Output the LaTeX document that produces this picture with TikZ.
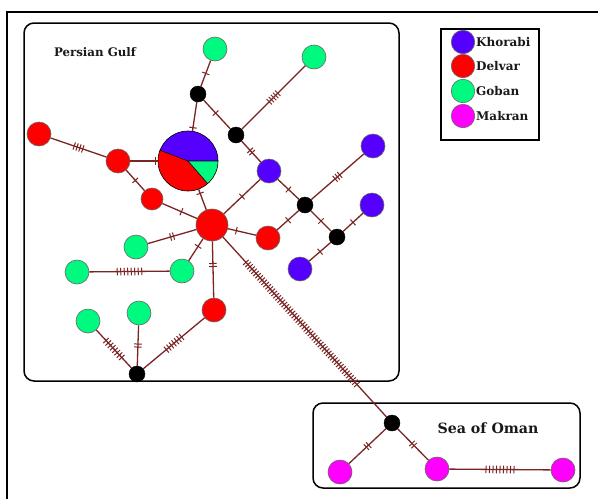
\documentclass[tikz,border=0pt]{standalone}
\usepackage{fontspec}
\setmainfont{DejaVu Serif}
\usetikzlibrary{decorations.markings,calc}
\definecolor{khor}{RGB}{85,0,255}
\definecolor{delv}{RGB}{255,0,0}
\definecolor{gob}{RGB}{0,250,128}
\definecolor{mak}{RGB}{255,0,255}
\definecolor{edgec}{RGB}{122,36,36}
\tikzset{
  hap/.style={circle, draw=black!60, line width=0.6, inner sep=0, minimum size=24},
  blk/.style={circle, fill=black, draw=black, inner sep=0, minimum size=16},
  ed/.style={draw=edgec, line width=1.3},
  tk/.style n args={3}{postaction={decorate, decoration={markings,
      mark=at position #2 with {\foreach \k in {1,...,#1}{\draw[edgec, line width=1]
        ({(\k-(#1+1)/2)*#3},-3.8) -- ({(\k-(#1+1)/2)*#3},3.8);}}}}},
  box/.style={draw=black, line width=1.5, rounded corners=10},
  lbl/.style={font=\bfseries, text=black!90, inner sep=0},
}
\begin{document}
\begin{tikzpicture}[x=1pt, y=-1pt]
\useasboundingbox (0,0) rectangle (598,499);
\fill[white] (0,0) rectangle (598,499);
% frames
\draw[line width=1.3] (7,499) -- (7,12) -- (598,12);
\draw[box] (24,23) rectangle (399,381);
\draw[box] (313,403) rectangle (580,488);
\draw[line width=2] (441,29) rectangle (539,140);
\node[lbl, font=\bfseries\fontsize{11.8}{13}\selectfont] (pg) at (95,52) {Persian Gulf};
\node[lbl, font=\bfseries\fontsize{14.2}{16}\selectfont] (so) at (488,428) {Sea of Oman};
% nodes
\node[hap,fill=gob] (g1) at (215,49) {};
\node[blk] (b1) at (198,94) {};
\node[blk] (b2) at (236,135) {};
\node[hap,fill=gob] (g3) at (314,57) {};
\node[hap,fill=delv] (r1) at (39,134) {};
\node[hap,fill=delv] (r2) at (118,161) {};
\node[hap,fill=delv,minimum size=22] (r3) at (152,199) {};
\node[hap,fill=delv,minimum size=32] (rc) at (212,225) {};
\node[hap,fill=khor] (k1) at (269,171) {};
\node[hap,fill=delv] (r4) at (268,238) {};
\node[hap,fill=gob] (g2) at (136,247) {};
\node[hap,fill=khor] (k2) at (373,146) {};
\node[hap,fill=khor] (k3) at (372,205) {};
\node[blk] (b3) at (305,205) {};
\node[blk] (b4) at (337,237) {};
\node[hap,fill=khor] (k4) at (300,269) {};
\node[hap,fill=gob] (g4) at (77,272) {};
\node[hap,fill=gob] (g5) at (182,271) {};
\node[hap,fill=delv] (r5) at (214,310) {};
\node[hap,fill=gob] (g6) at (88,321) {};
\node[hap,fill=gob] (g7) at (139,313) {};
\node[blk] (b5) at (137,374) {};
\node[blk] (b6) at (392,423) {};
\node[hap,fill=mak] (m1) at (340,472) {};
\node[hap,fill=mak] (m2) at (437,469) {};
\node[hap,fill=mak] (m3) at (563,470) {};
\node[circle, minimum size=60, inner sep=0] (pie) at (188,161) {};
% pie
\fill[khor] (pie.center) -- ++(0:30) arc[start angle=0, end angle=-159, radius=30] -- cycle;
\fill[delv] (pie.center) -- ++(-159:30) arc[start angle=-159, end angle=-311, radius=30] -- cycle;
\fill[gob] (pie.center) -- ++(-311:30) arc[start angle=-311, end angle=-360, radius=30] -- cycle;
\draw[black, line width=0.6] (pie.center) circle[radius=30];
\draw[black, line width=0.6] ($(pie.center)+(-159:30)$) -- (pie.center) -- ++(0:30);
\draw[black, line width=0.6] (pie.center) -- ++(-311:30);
% edges
\draw[ed, tk={1}{0.5}{3}] (g1) -- (b1);
\draw[ed, tk={1}{0.88}{3}] (b1) -- (pie);
\draw[ed, tk={1}{0.45}{3}] (b1) -- (b2);
\draw[ed, tk={5}{0.5}{3}] (b2) -- (g3);
\draw[ed, tk={2}{0.5}{3}] (b2) -- (k1);
\draw[ed, tk={4}{0.5}{3}] (r1) -- (r2);
\draw[ed, tk={1}{0.93}{3}] (r2) -- (pie);
\draw[ed, tk={1}{0.5}{3}] (r2) -- (r3);
\draw[ed, tk={1}{0.55}{3}] (r3) -- (rc);
\draw[ed, tk={1}{0.2}{3}] (pie) -- (rc);
\draw[ed, tk={1}{0.5}{3}] (k1) -- (rc);
\draw[ed, tk={1}{0.3}{3}] (rc) -- (r4);
\draw[ed, tk={1}{0.5}{3}] (k1) -- (b3);
\draw[ed, tk={3}{0.5}{3}] (b3) -- (k2);
\draw[ed, tk={1}{0.5}{3}] (b3) -- (r4);
\draw[ed, tk={1}{0.5}{3}] (b3) -- (b4);
\draw[ed, tk={1}{0.5}{3}] (b4) -- (k3);
\draw[ed, tk={1}{0.5}{3}] (b4) -- (k4);
\draw[ed, tk={2}{0.5}{3}] (rc) -- (g2);
\draw[ed, tk={1}{0.35}{3}] (rc) -- (g5);
\draw[ed, tk={8}{0.5}{3.5}] (g4) -- (g5);
\draw[ed, tk={2}{0.42}{3}] (rc) -- (r5);
\draw[ed, tk={7}{0.5}{3.3}] (r5) -- (b5);
\draw[ed, tk={2}{0.5}{3}] (g7) -- (b5);
\draw[ed, tk={8}{0.5}{3.3}] (g6) -- (b5);
\draw[ed, tk={56}{0.48}{3}] (rc) -- (b6);
\draw[ed, tk={2}{0.5}{3}] (b6) -- (m1);
\draw[ed, tk={2}{0.5}{3}] (b6) -- (m2);
\draw[ed, tk={9}{0.5}{3.5}] (m2) -- (m3);
% legend
\node[hap,fill=khor,minimum size=23.5] (lk) at (463,42) {};
\node[hap,fill=delv,minimum size=23.5] (ld) at (463,66) {};
\node[hap,fill=gob,minimum size=23.5] (lg) at (463,91) {};
\node[hap,fill=mak,minimum size=23.5] (lm) at (463,116) {};
\node[lbl, anchor=west, font=\bfseries\fontsize{12}{14}\selectfont] (tk1) at (476,42) {Khorabi};
\node[lbl, anchor=west, font=\bfseries\fontsize{12}{14}\selectfont] (tk2) at (476,66) {Delvar};
\node[lbl, anchor=west, font=\bfseries\fontsize{12}{14}\selectfont] (tk3) at (476,91) {Goban};
\node[lbl, anchor=west, font=\bfseries\fontsize{12}{14}\selectfont] (tk4) at (476,116) {Makran};
\end{tikzpicture}
\end{document}
